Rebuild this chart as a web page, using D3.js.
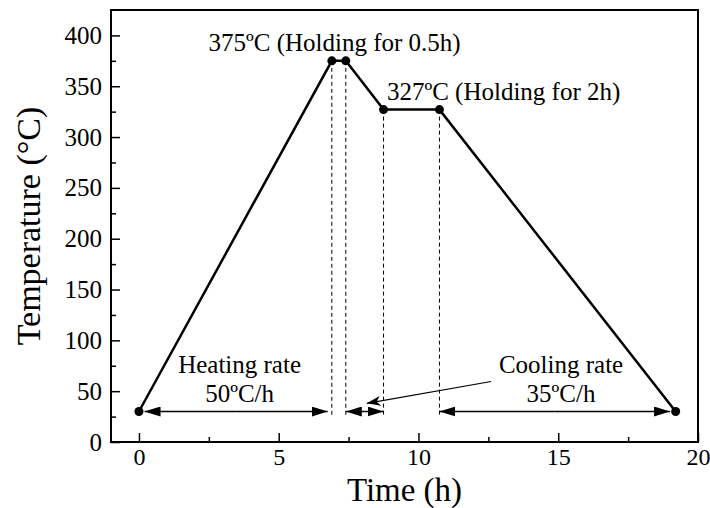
<!DOCTYPE html>
<html lang="en">
<head>
  <meta charset="utf-8">
  <title>Heat treatment profile</title>
  <script src="https://d3js.org/d3.v7.min.js"></script>
  <style>
    body { margin: 0; background: #fff; }
    svg text { font-family: "Liberation Serif", "Times New Roman", serif; fill: #000; }
  </style>
</head>
<body>
<script>
// heat treatment schedule
var times = [0, 6.9, 7.4, 8.75, 10.75, 19.2];
var temps = [30, 375, 375, 327, 327, 30];

var xTicks = [0, 5, 10, 15, 20];
var yTicks = [0, 50, 100, 150, 200, 250, 300, 350, 400];

var w = 710, h = 508;
var margin = {left: 111, right: 12, top: 10, bottom: 66};

var svg = d3.select("body").append("svg")
  .attr("width", w)
  .attr("height", h);

var x = d3.scaleLinear().domain([-1, 20]).range([margin.left, w - margin.right]);
var y = d3.scaleLinear().domain([0, 425]).range([h - margin.bottom, margin.top]);

var pts = times.map(function(t, i) { return [t, temps[i]]; });

// arrow heads
var defs = svg.append("defs");
defs.append("marker")
  .attr("id", "head")
  .attr("viewBox", "0 0 16 10")
  .attr("refX", 16).attr("refY", 5)
  .attr("markerWidth", 16).attr("markerHeight", 10)
  .attr("markerUnits", "userSpaceOnUse")
  .attr("orient", "auto")
  .append("path").attr("d", "M0,0 L16,5 L0,10 Z").attr("fill", "#000");
defs.append("marker")
  .attr("id", "thin")
  .attr("viewBox", "0 0 14 10")
  .attr("refX", 14).attr("refY", 5)
  .attr("markerWidth", 14).attr("markerHeight", 10)
  .attr("markerUnits", "userSpaceOnUse")
  .attr("orient", "auto")
  .append("path").attr("d", "M0,0 L14,5 L0,10 L4,5 Z").attr("fill", "#000");

// axes with inward ticks
var xAxis = d3.axisBottom(x).tickValues(d3.range(0, 20.01, 2.5))
  .tickSize(-8).tickPadding(6)
  .tickFormat(function(d) { return xTicks.indexOf(d) >= 0 ? d : ""; });
var gx = svg.append("g").attr("transform", "translate(0," + y(0) + ")").call(xAxis);
gx.selectAll(".tick line").attr("y2", function(d) { return xTicks.indexOf(d) >= 0 ? -9 : -5; });

var yAxis = d3.axisLeft(y).tickValues(d3.range(0, 425, 25))
  .tickSize(-9).tickPadding(9)
  .tickFormat(function(d) { return yTicks.indexOf(d) >= 0 ? d : ""; });
var gy = svg.append("g").attr("transform", "translate(" + x(-1) + ",0)").call(yAxis);
gy.selectAll(".tick line").attr("x2", function(d) { return yTicks.indexOf(d) >= 0 ? 9 : 5; });

svg.selectAll(".domain").remove();
svg.selectAll(".tick line").attr("stroke", "#000").attr("stroke-width", 1.5);
svg.selectAll("g").attr("font-family", null).attr("font-size", null);
svg.selectAll(".tick text").style("font-size", "25px");
gx.selectAll(".tick text").style("font-size", "24px").attr("dy", "0.71em");

// frame
svg.append("rect")
  .attr("x", x(-1)).attr("y", y(425))
  .attr("width", x(20) - x(-1)).attr("height", y(0) - y(425))
  .attr("fill", "none").attr("stroke", "#000").attr("stroke-width", 2);

// dashed drop lines
svg.selectAll(".drop")
  .data(pts.slice(1, 5))
  .enter().append("line")
  .attr("x1", function(d) { return x(d[0]); })
  .attr("x2", function(d) { return x(d[0]); })
  .attr("y1", function(d) { return y(d[1]); })
  .attr("y2", y(25))
  .attr("stroke", "#000").attr("stroke-width", 1)
  .attr("stroke-dasharray", "4,3");

// profile
svg.append("path")
  .datum(pts)
  .attr("d", d3.line().x(function(d) { return x(d[0]); }).y(function(d) { return y(d[1]); }))
  .attr("fill", "none").attr("stroke", "#000").attr("stroke-width", 2.5);

svg.selectAll(".pt")
  .data(pts)
  .enter().append("circle")
  .attr("cx", function(d) { return x(d[0]); })
  .attr("cy", function(d) { return y(d[1]); })
  .attr("r", 4.5).attr("fill", "#000");

// rate arrows
var spans = [[times[0] + 0.2, times[1] - 0.15], [times[2], times[3]], [times[4], times[5] - 0.2]];
spans.forEach(function(s) {
  var mid = (s[0] + s[1]) / 2;
  [[mid, s[0]], [mid, s[1]]].forEach(function(p) {
    svg.append("line")
      .attr("x1", x(p[0])).attr("x2", x(p[1]))
      .attr("y1", y(30)).attr("y2", y(30))
      .attr("stroke", "#000").attr("stroke-width", 1.5)
      .attr("marker-end", "url(#head)");
  });
});

// pointer from cooling label
svg.append("line")
  .attr("x1", x(12.6)).attr("y1", y(59.5))
  .attr("x2", x(8.15)).attr("y2", y(38))
  .attr("stroke", "#000").attr("stroke-width", 1.2)
  .attr("marker-end", "url(#thin)");

// labels
function label(tx, ty, str, anchor) {
  svg.append("text")
    .attr("x", x(tx)).attr("y", y(ty))
    .attr("text-anchor", anchor)
    .style("font-size", "25px")
    .text(str);
}
label(7.0, 385, "375ºC (Holding for 0.5h)", "middle");
label(8.87, 336, "327ºC (Holding for 2h)", "start");
label(3.6, 67.5, "Heating rate", "middle");
label(3.6, 39, "50ºC/h", "middle");
label(15.1, 67.5, "Cooling rate", "middle");
label(15.1, 39, "35ºC/h", "middle");

// axis titles
svg.append("text")
  .attr("x", (x(-1) + x(20)) / 2).attr("y", 501)
  .attr("text-anchor", "middle")
  .style("font-size", "33px")
  .text("Time (h)");

svg.append("text")
  .attr("transform", "translate(40," + (y(0) + y(425)) / 2 + ") rotate(-90)")
  .attr("text-anchor", "middle")
  .style("font-size", "34px")
  .text("Temperature (°C)");
</script>
</body>
</html>
